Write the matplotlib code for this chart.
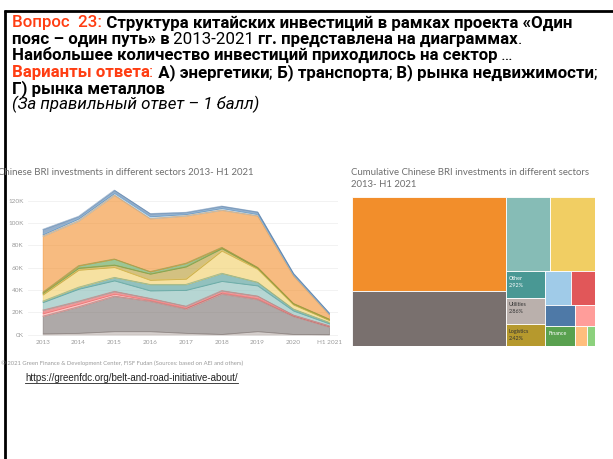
import numpy as np
import matplotlib
matplotlib.use("Agg")
import matplotlib.pyplot as plt
from matplotlib.patches import Rectangle
from matplotlib.lines import Line2D

W, H = 613, 459

# ---------------------------------------------------------------------------
# Area chart data: top of each stacked layer (thousand, "K")
years = ['2013', '2014', '2015', '2016', '2017', '2018', '2019', '2020', 'H1 2021']
base_top   = [1.0, 1.5, 3.0, 3.0, 1.5, 0.5, 3.0, 0.5, 0.3]
grey_top   = [16.5, 25.0, 34.5, 30.0, 23.0, 36.5, 31.5, 16.5, 7.0]
lpink_top  = [19.0, 27.5, 36.5, 31.0, 24.0, 37.6, 32.5, 17.0, 7.5]
red_top    = [22.0, 30.0, 38.8, 32.5, 25.5, 39.4, 34.6, 17.6, 8.0]
lteal_top  = [29.0, 41.0, 48.5, 39.5, 40.0, 48.0, 44.0, 21.5, 10.0]
dteal_top  = [30.0, 42.5, 51.3, 45.0, 45.0, 55.0, 47.0, 23.0, 11.0]
yellow_top = [35.8, 58.0, 60.5, 49.0, 50.0, 75.2, 58.8, 26.9, 13.0]
olive_top  = [37.0, 59.7, 62.5, 54.5, 61.0, 77.3, 59.7, 27.5, 13.5]
green_top  = [38.0, 61.8, 67.8, 56.5, 64.0, 78.2, 60.3, 28.0, 14.0]
orange_top = [88.3, 102.0, 125.0, 104.0, 106.5, 111.6, 106.5, 52.8, 18.0]
lblue_top  = [89.8, 104.0, 126.9, 106.0, 108.0, 113.4, 108.0, 53.7, 18.7]
blue_top   = [94.3, 106.0, 129.5, 108.5, 109.6, 115.2, 110.0, 55.0, 19.5]

area_tops = [base_top, grey_top, lpink_top, red_top, lteal_top, dteal_top,
             yellow_top, olive_top, green_top, orange_top, lblue_top, blue_top]
area_colors = ['#bab0ac', '#79706e', '#ff9d9a', '#e15759', '#86bcb6', '#499894',
               '#f1ce63', '#b6992d', '#59a14f', '#f28e2b', '#a0cbe8', '#4e79a7']
y_ticks = [0, 20, 40, 60, 80, 100, 120]

# Treemap data: share of cumulative investment (%)
tm_labels = ['', '', '', '', 'Other', 'Utilities', 'Logistics', '', '', '', '',
             'Finance', '', '']
tm_values = [40.0, 23.3, 9.0, 9.2, 2.92, 2.86, 2.42, 2.38, 2.25, 1.75, 1.17,
             1.64, 0.65, 0.46]
tm_colors = ['#f28e2b', '#79706e', '#86bcb6', '#f1ce63', '#499894', '#bab0ac',
             '#b6992d', '#a0cbe8', '#e15759', '#4e79a7', '#ff9d9a', '#59a14f',
             '#ffbe7d', '#8cd17d']
tm_show_pct = [False, False, False, False, True, True, True, False, False, False,
               False, False, False, False]
tm_text_color = ['w', 'w', 'w', 'w', 'w', '#333333', '#333333', 'w', 'w', 'w',
                 'w', 'w', 'w', 'w']
# nesting of the tableau layout (alternating split direction by depth)
tm_tree = [[0, 1], [[2, 3], [[4, 5, 6], [[7, 8], [9, 10], [11, 12, 13]]]]]

RED = '#ff3d12'
FONT = 'Roboto'
CHART_FONT = 'Lato'
TXT_SIZE = 12.2

fig = plt.figure(figsize=(W / 100, H / 100), dpi=100)


def px_axes(left, top, right, bottom):
    return fig.add_axes([left / W, 1 - bottom / H, (right - left) / W, (bottom - top) / H])


# ---------------------------------------------------------------------------
# Area chart
ax = px_axes(28, 185, 338, 336)
x = np.arange(len(years))
tops = np.vstack([np.zeros(len(years))] + [np.array(t) for t in area_tops])
layers = np.diff(tops, axis=0)
ax.stackplot(x, layers, colors=area_colors, alpha=0.6, lw=0.6,
             edgecolor='face')
for t, c in zip(area_tops[1:], area_colors[1:]):
    ax.plot(x, t, color=c, lw=0.5, alpha=0.5)
ax.set_xlim(-0.41, 8.25)
ax.set_ylim(-1.3, 134)
ax.set_yticks(y_ticks)
ax.set_yticklabels([f'{v}K' for v in y_ticks])
ax.set_xticks(x)
ax.set_xticklabels(years)
ax.tick_params(length=0, labelsize=4.6, colors='#9a9a9a', pad=3)
for lab in ax.get_xticklabels() + ax.get_yticklabels():
    lab.set_family(CHART_FONT)
ax.grid(axis='y', color='#f0f0f0', lw=0.6)
ax.set_axisbelow(True)
for s in ax.spines.values():
    s.set_visible(False)

# ---------------------------------------------------------------------------
# Treemap
tx = px_axes(351.7, 196.7, 595, 346)
tx.set_xlim(0, 1)
tx.set_ylim(1, 0)
tx.axis('off')


def node_total(node):
    if isinstance(node, int):
        return tm_values[node]
    return sum(node_total(n) for n in node)


def layout(node, x0, y0, w, h, depth):
    if isinstance(node, int):
        tx.add_patch(Rectangle((x0, y0), w, h, facecolor=tm_colors[node],
                               edgecolor='white', lw=0.6))
        if tm_labels[node]:
            txt = tm_labels[node]
            if tm_show_pct[node]:
                txt += f'\n{tm_values[node]:.2f}%'
            tx.annotate(txt, (x0, y0), xytext=(2.2, -3.5), textcoords='offset points',
                        ha='left', va='top', fontsize=3.9, color=tm_text_color[node],
                        family=CHART_FONT, linespacing=1.5)
        return
    total = node_total(node)
    pos = 0.0
    for child in node:
        frac = node_total(child) / total
        if depth % 2 == 0:
            layout(child, x0 + pos * w, y0, frac * w, h, depth + 1)
        else:
            layout(child, x0, y0 + pos * h, w, frac * h, depth + 1)
        pos += frac


layout(tm_tree, 0, 0, 1, 1, 0)

# ---------------------------------------------------------------------------
# Slide canvas: text and frame
cv = fig.add_axes([0, 0, 1, 1], zorder=10)
cv.set_xlim(0, W)
cv.set_ylim(H, 0)
cv.axis('off')
cv.patch.set_alpha(0)

fig.canvas.draw()
renderer = fig.canvas.get_renderer()


def runs(x0, y0, parts, size=TXT_SIZE):
    xx = x0
    for text, color, weight, style in parts:
        t = cv.text(xx, y0, text, color=color, fontsize=size, fontweight=weight,
                    fontstyle=style, family=FONT, va='baseline', ha='left')
        xx += t.get_window_extent(renderer).width
    return xx


B, N, M = 'bold', 'normal', 'medium'
runs(11.5, 27.5, [('Вопрос  23:', RED, M, 'normal'),
                  (' Структура китайских инвестиций в рамках проекта «Один', 'k', B, 'normal')])
runs(11.5, 44, [('пояс – один путь» в', 'k', B, 'normal'),
                (' 2013-2021 ', 'k', N, 'normal'),
                ('гг. представлена на диаграммах', 'k', B, 'normal'),
                ('.', 'k', N, 'normal')])
runs(11.5, 60, [('Наибольшее количество инвестиций приходилось на сектор', 'k', B, 'normal'),
                (' …', 'k', N, 'normal')])
runs(11.5, 77, [('Варианты ответа', RED, B, 'normal'), (':', RED, N, 'normal'),
                (' А) энергетики', 'k', B, 'normal'), (';', 'k', N, 'normal'),
                (' Б) транспорта', 'k', B, 'normal'), (';', 'k', N, 'normal'),
                (' В) рынка недвижимости', 'k', B, 'normal'), (';', 'k', N, 'normal')])
runs(11.5, 93.5, [('Г) рынка металлов', 'k', B, 'normal')])
runs(11.5, 109.5, [('(За правильный ответ – 1 балл)', 'k', N, 'italic')])

# chart titles and notes
cv.text(-1.5, 175, 'Chinese BRI investments in different sectors 2013- H1 2021',
        fontsize=6.9, color='#6e6e6e', family=CHART_FONT, va='baseline')
cv.text(351, 175, 'Cumulative Chinese BRI investments in different sectors',
        fontsize=6.9, color='#6e6e6e', family=CHART_FONT, va='baseline')
cv.text(351, 187, '2013- H1 2021',
        fontsize=6.9, color='#6e6e6e', family=CHART_FONT, va='baseline')
cv.text(1, 364.5, '© 2021 Green Finance & Development Center, FISF Fudan '
        '(Sources: based on AEI and others)',
        fontsize=4.2, color='#9a9a9a', family=CHART_FONT, va='baseline')
url = cv.text(25, 381, 'https://greenfdc.org/belt-and-road-initiative-about/',
              fontsize=7.0, color='#222222', family='Liberation Sans', va='baseline')
uw = url.get_window_extent(renderer).width
cv.add_line(Line2D([25, 25 + uw], [382.5, 382.5], color='#222222', lw=0.6))

# frame
cv.add_line(Line2D([3.5, W], [11, 11], color='k', lw=2.0, solid_capstyle='butt'))
cv.add_line(Line2D([4.5, 4.5], [10, H], color='k', lw=2.0, solid_capstyle='butt'))

fig.savefig('out.png', dpi=100)
